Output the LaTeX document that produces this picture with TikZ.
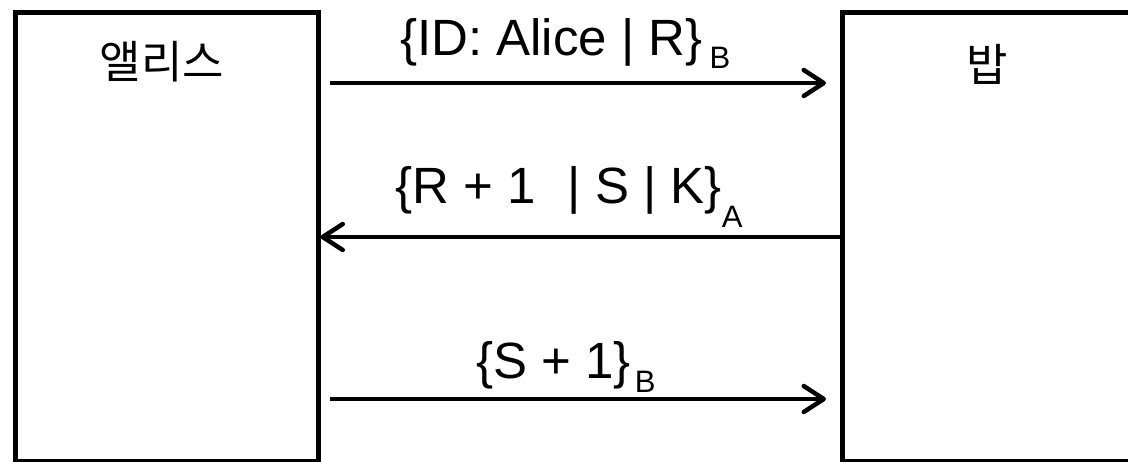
\documentclass[tikz,border=0pt]{standalone}
\usepackage{fontspec}
\setmainfont{Liberation Sans}
\newfontfamily\krfont{Noto Sans CJK KR}
\usetikzlibrary{arrows.meta}
\tikzset{
  actor/.style={draw=black, line width=5pt, rectangle, inner sep=0pt},
  krlabel/.style={font=\krfont\fontsize{45}{45}\selectfont, inner sep=0pt},
  msglabel/.style={font=\fontsize{51}{51}\selectfont, inner sep=0pt, anchor=base west},
  msg/.style={line width=4.5pt, -{Straight Barb[length=20pt,width=26pt,round]}}
}
\newcommand{\subtxt}[3]{\raisebox{-#1pt}{\fontsize{#2}{#2}\selectfont #3}}
\begin{document}
\begin{tikzpicture}[x=1pt,y=-1pt]
\useasboundingbox (0,0) rectangle (1128,461);
\fill[white] (0,0) rectangle (1128,461);
\clip (0,0) rectangle (1128,461);
\node[actor, minimum width=303pt, minimum height=449pt, anchor=north west] (alice) at (12.5,10) {};
\node[actor, minimum width=300pt, minimum height=449pt, anchor=north west] (bob) at (840,10) {};
\node[krlabel] (alicename) at (162,62) {앨리스};
\node[krlabel] (bobname) at (987,64) {밥};
\coordinate (m1a) at (330,83);
\coordinate (m1b) at (826,83);
\coordinate (m2) at (0,237);
\coordinate (m3a) at (330,399);
\coordinate (m3b) at (826,399);
\draw[msg] (m1a) -- (m1b);
\draw[msg] (bob.west |- m2) -- (alice.east |- m2);
\draw[msg] (m3a) -- (m3b);
\node[msglabel] (l1) at (400,55) {\{ID: Alice | R\}\hspace{7pt}\subtxt{13}{31}{B}};
\node[msglabel] (l2) at (395,203) {\{R + 1\hspace{18pt} | S | K\}\hspace{0pt}\subtxt{24}{31}{A}};
\node[msglabel] (l3) at (476,378) {\{S + 1\}\hspace{4pt}\subtxt{14}{31}{B}};
\end{tikzpicture}
\end{document}
